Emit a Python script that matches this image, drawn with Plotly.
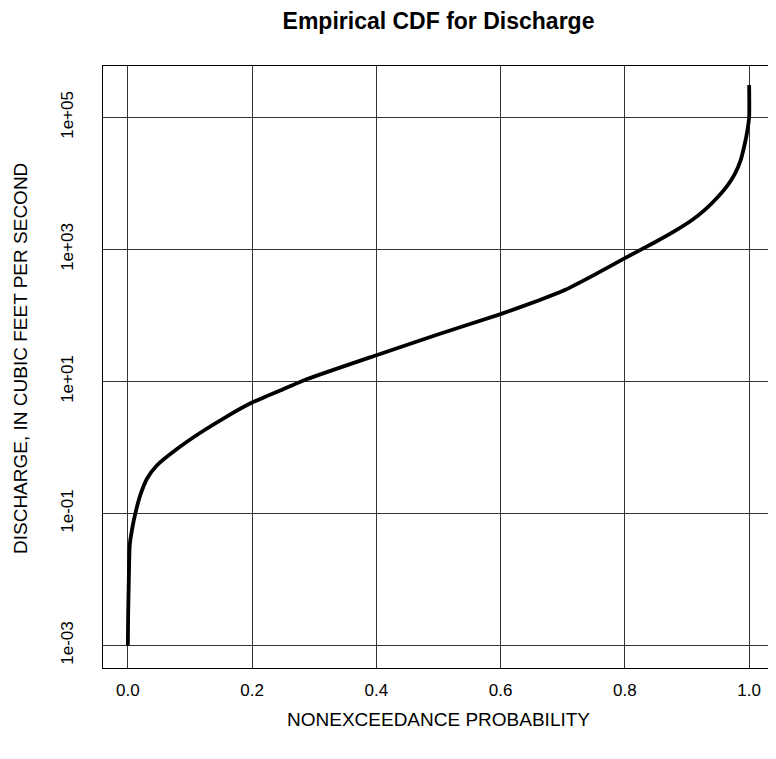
import plotly.graph_objects as go

# Nonexceedance probability and discharge (cfs)
probability = [0.0, 0.0005, 0.0016, 0.003, 0.007, 0.012, 0.02, 0.031, 0.047, 0.079,
               0.116, 0.159, 0.2, 0.249, 0.29, 0.4, 0.5, 0.6, 0.662, 0.704,
               0.75, 0.8, 0.849, 0.88, 0.907, 0.93, 0.95, 0.965, 0.977, 0.986,
               0.993, 0.997, 1.0, 1.0]
discharge = [0.001, 0.003, 0.0105, 0.033, 0.059, 0.1, 0.19, 0.34, 0.54, 0.95,
             1.66, 2.95, 4.8, 7.6, 11.0, 25.0, 52.0, 105.0, 170.0, 245.0,
             410.0, 740.0, 1300.0, 1900.0, 2750.0, 4100.0, 6300.0, 9300.0, 14000.0, 22000.0,
             40000.0, 62000.0, 100000.0, 310000.0]

x_ticks = [0.0, 0.2, 0.4, 0.6, 0.8, 1.0]
x_ticktext = ["0.0", "0.2", "0.4", "0.6", "0.8", "1.0"]
y_ticks = [1e-3, 1e-1, 1e1, 1e3, 1e5]
y_ticktext = ["1e-03", "1e-01", "1e+01", "1e+03", "1e+05"]

FONT = "Liberation Sans, Arial, sans-serif"

fig = go.Figure()
fig.add_trace(go.Scatter(
    x=probability, y=discharge, mode="lines",
    line=dict(color="black", width=3.8, shape="spline", smoothing=0.5),
    showlegend=False, hoverinfo="skip",
))

fig.update_layout(
    width=768, height=751,
    margin=dict(l=95, r=2, t=58, b=91),
    paper_bgcolor="white", plot_bgcolor="white",
    font=dict(family=FONT, color="black"),
    title=dict(text="<b>Empirical CDF for Discharge</b>",
               font=dict(size=23, family=FONT, color="black"),
               x=0.5, xref="paper", xanchor="center",
               y=1 - 13 / 751, yref="container", yanchor="middle"),
    annotations=[
        dict(text="NONEXCEEDANCE PROBABILITY", xref="paper", yref="paper",
             x=0.5, y=(668 - 719) / 602, xanchor="center", yanchor="middle",
             showarrow=False, font=dict(size=19, family=FONT, color="black")),
        dict(text="DISCHARGE, IN CUBIC FEET PER SECOND", xref="paper", yref="paper",
             x=(20 - 103) / 671, y=(668 - 359) / 602, xanchor="center", yanchor="middle",
             textangle=-90, showarrow=False,
             font=dict(size=19, family=FONT, color="black")),
    ],
)

fig.update_xaxes(
    range=[-0.04, 1.04], tickvals=x_ticks, ticktext=x_ticktext,
    showgrid=True, gridcolor="#333333", gridwidth=1, zeroline=False,
    showline=True, mirror=True, linecolor="black", linewidth=1,
    ticks="", tickfont=dict(size=17, family=FONT, color="black"),
    ticklabelstandoff=7,
)
fig.update_yaxes(
    type="log", range=[-3.34, 5.78], tickvals=y_ticks, ticktext=y_ticktext,
    showgrid=True, gridcolor="#333333", gridwidth=1, zeroline=False,
    showline=True, mirror=True, linecolor="black", linewidth=1,
    ticks="", tickangle=-90, tickfont=dict(size=17, family=FONT, color="black"),
    ticklabelstandoff=22,
)

fig.write_html("out.html")
